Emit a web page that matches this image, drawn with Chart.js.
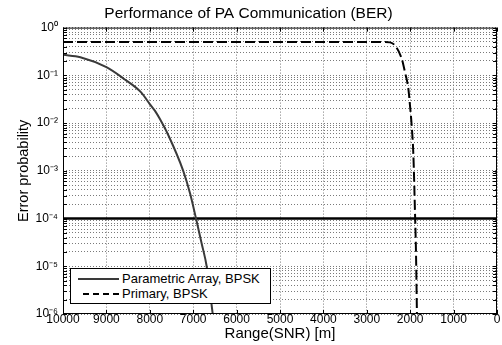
<!DOCTYPE html>
<html>
<head>
<meta charset="utf-8">
<script src="https://cdn.jsdelivr.net/npm/chart.js@4/dist/chart.umd.min.js"></script>
<style>
  html, body { margin: 0; padding: 0; background: #fff; }
  #wrap { position: relative; width: 502px; height: 345px; }
  #legend { position: absolute; left: 70px; top: 268px; width: 199px; height: 34px;
    border: 1px solid #000; background: #fff; font-family: "Liberation Sans", Arial, sans-serif;
    font-size: 13px; color: #000; }
  .row { position: absolute; left: 0; height: 15px; line-height: 15px; }
  .sample { position: absolute; left: 7px; width: 41px; height: 0; }
  .lbl { position: absolute; left: 51px; white-space: nowrap; }
</style>
</head>
<body>
<div id="wrap">
  <canvas id="c" width="502" height="345"></canvas>
  <div id="legend">
    <div class="row" style="top:2px"><div class="sample" style="top:7px;border-top:2px solid #3a3a3a"></div><span class="lbl">Parametric Array, BPSK</span></div>
    <div class="row" style="top:17px"><div class="sample" style="top:7px;left:12px;width:36px;border-top:2px dashed #000"></div><span class="lbl">Primary, BPSK</span></div>
  </div>
</div>
<script>
// Parametric Array, BPSK
const paRange = [10000, 9600, 9000, 8600, 8200, 8000, 7880, 7770, 7570, 7230, 7070, 6935, 6805, 6690, 6550];
const paBer   = [0.27, 0.24, 0.148, 0.085, 0.044, 0.025, 0.018, 0.0123, 0.0055, 0.001, 0.00033, 0.0001, 0.00003, 0.00001, 0.000001];
// Primary, BPSK
const prRange = [10000, 2600, 2465, 2350, 2196, 2120, 2043, 2005, 1966, 1928, 1889, 1866, 1845];
const prBer   = [0.5, 0.5, 0.49, 0.42, 0.224, 0.116, 0.0525, 0.0234, 0.0089, 0.0023, 0.000129, 0.0000186, 0.000001];
// Threshold line
const thRange = [10000, 0];
const thBer   = [0.0001, 0.0001];
// Axis ticks
const xTicks = [0, 1000, 2000, 3000, 4000, 5000, 6000, 7000, 8000, 9000, 10000];
const yDecades = [-6, -5, -4, -3, -2, -1, 0];

const sup = {'-':'⁻','0':'⁰','1':'¹','2':'²','3':'³','4':'⁴','5':'⁵','6':'⁶','7':'⁷','8':'⁸','9':'⁹'};
function pow10Label(e) { return '10' + String(e).split('').map(c => sup[c]).join(''); }
function pts(xs, ys) { return xs.map((x, i) => ({x: x, y: ys[i]})); }

const FONT = '"Liberation Sans", Arial, sans-serif';

const frame = {
  id: 'frame',
  afterDraw(chart) {
    const a = chart.chartArea, ctx = chart.ctx;
    ctx.save();
    ctx.strokeStyle = '#000';
    ctx.lineWidth = 1;
    ctx.strokeRect(a.left + 0.5, a.top + 0.5, a.right - a.left - 1, a.bottom - a.top - 1);
    ctx.beginPath();
    const ys = chart.scales.y, xs = chart.scales.x;
    ys.ticks.forEach(t => {
      const p = Math.round(ys.getPixelForValue(t.value)) + 0.5;
      ctx.moveTo(a.left, p); ctx.lineTo(a.left + 4, p);
      ctx.moveTo(a.right, p); ctx.lineTo(a.right - 4, p);
    });
    xs.ticks.forEach(t => {
      const p = Math.round(xs.getPixelForValue(t.value)) + 0.5;
      ctx.moveTo(p, a.bottom); ctx.lineTo(p, a.bottom - 4);
      ctx.moveTo(p, a.top); ctx.lineTo(p, a.top + 4);
    });
    ctx.stroke();
    ctx.restore();
  }
};

new Chart(document.getElementById('c'), {
  type: 'line',
  data: {
    datasets: [
      { label: 'Parametric Array, BPSK', data: pts(paRange, paBer), borderColor: '#3a3a3a', borderWidth: 2,
        pointRadius: 0, cubicInterpolationMode: 'monotone', fill: false },
      { label: 'Primary, BPSK', data: pts(prRange, prBer), borderColor: '#000', borderWidth: 2,
        borderDash: [10, 4], pointRadius: 0, cubicInterpolationMode: 'monotone', fill: false },
      { label: 'threshold', data: pts(thRange, thBer), borderColor: '#000', borderWidth: 2.5,
        pointRadius: 0, fill: false }
    ]
  },
  options: {
    responsive: false,
    animation: false,
    layout: { padding: { left: 0, right: 5, top: 0, bottom: 0 } },
    plugins: {
      legend: { display: false },
      tooltip: { enabled: false },
      title: { display: true, text: 'Performance of PA Communication (BER)', color: '#000',
        font: { family: FONT, size: 15.5, weight: 'normal' }, padding: { top: 4, bottom: 5 } }
    },
    scales: {
      x: {
        type: 'linear', reverse: true, min: 0, max: 10000,
        afterBuildTicks(scale) { scale.ticks = xTicks.map(v => ({value: v})); },
        afterFit(scale) { scale.height = 31; },
        ticks: { color: '#000', font: { family: FONT, size: 12 }, padding: -2, maxRotation: 0, autoSkip: false,
          callback: v => String(v) },
        grid: { color: '#7a7a7a', lineWidth: 1, drawTicks: false },
        border: { display: false, dash: [1, 2] },
        title: { display: true, text: 'Range(SNR) [m]', color: '#000', font: { family: FONT, size: 15 },
          padding: { top: 0, bottom: 2 } }
      },
      y: {
        type: 'logarithmic', min: 1e-6, max: 1,
        afterBuildTicks(scale) {
          const t = [];
          for (const e of yDecades) {
            for (let m = 1; m <= 9; m++) {
              if (e === 0 && m > 1) break;
              t.push({ value: m * Math.pow(10, e) });
            }
          }
          scale.ticks = t;
        },
        afterFit(scale) { scale.width = 63; },
        ticks: { color: '#000', font: { family: FONT, size: 12 }, padding: 5, autoSkip: false,
          callback: function (v) {
            const e = Math.log10(v);
            const r = Math.round(e);
            return Math.abs(e - r) < 1e-9 ? pow10Label(r) : '';
          } },
        grid: { color: '#7a7a7a', lineWidth: 1, drawTicks: false },
        border: { display: false, dash: [1, 2] },
        title: { display: true, text: 'Error probability', color: '#000', font: { family: FONT, size: 14.5 },
          padding: { top: 15, bottom: 0 } }
      }
    }
  },
  plugins: [frame]
});
</script>
</body>
</html>
